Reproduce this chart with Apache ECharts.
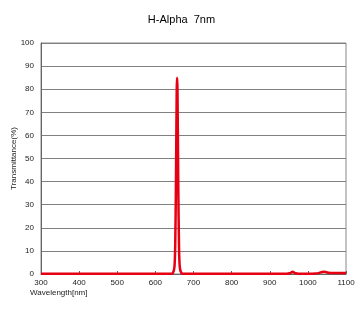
<!DOCTYPE html>
<html><head><meta charset="utf-8">
<script src="https://cdn.jsdelivr.net/npm/echarts@6/dist/echarts.min.js"></script>
<style>html,body{margin:0;padding:0;background:#fff}#c{width:363px;height:313px}</style>
</head><body><div id="c"></div>
<script>
var title = 'H-Alpha  7nm';
var xName = 'Wavelength[nm]';
var yName = 'Transmittance(%)';
var wavelength = [300,400,500,600,641,646,650,652,654,656,657,658,660,662,664,668,673,700,800,900,945,952,957,960,963,968,975,1000,1020,1030,1037,1042,1048,1055,1065,1080,1100];
var transmittance = [0.1,0.1,0.1,0.1,0.1,0.5,3,12,40,80,85,80,40,12,3,0.5,0.1,0.1,0.1,0.1,0.1,0.3,0.7,1.0,0.7,0.3,0.1,0.1,0.2,0.5,0.9,1.0,0.8,0.5,0.4,0.4,0.4];
var data = wavelength.map(function(w,i){return [w, transmittance[i]];});
var chart = echarts.init(document.getElementById('c'));
chart.setOption({
  animation:false,
  title:{text:title,left:'center',top:9,textStyle:{fontFamily:'Liberation Sans',fontSize:11,fontWeight:'normal',color:'#000'}},
  grid:{left:41,right:17,top:43,bottom:39,show:true,borderColor:'#888',borderWidth:1,outerBoundsMode:'none',containLabel:false},
  xAxis:{type:'value',min:300,max:1100,interval:100,
    axisLine:{show:true,onZero:false,lineStyle:{color:'#666'}},
    axisTick:{show:true,inside:true,length:3,lineStyle:{color:'#666'}},
    axisLabel:{fontFamily:'Liberation Sans',fontSize:8,color:'#222',margin:5,formatter:function(v){return String(v);}},
    splitLine:{show:false},
    name:xName,nameLocation:'start',nameGap:0,nameMoveOverlap:false,
    nameTextStyle:{fontFamily:'Liberation Sans',fontSize:8,color:'#222',align:'left',verticalAlign:'top',padding:[15,0,0,-11]}},
  yAxis:{type:'value',min:0,max:100,interval:10,
    axisLine:{show:true,lineStyle:{color:'#666'}},
    axisTick:{show:false},
    axisLabel:{fontFamily:'Liberation Sans',fontSize:8,color:'#222',margin:7},
    splitLine:{show:true,lineStyle:{color:'#808080',width:1}},
    name:yName,nameLocation:'middle',nameGap:23,nameMoveOverlap:false,
    nameTextStyle:{fontFamily:'Liberation Sans',fontSize:8,color:'#222'}},
  series:[{type:'line',data:data,smooth:0.3,symbol:'none',lineStyle:{color:'#e60012',width:2.5}}]
});
</script></body></html>
